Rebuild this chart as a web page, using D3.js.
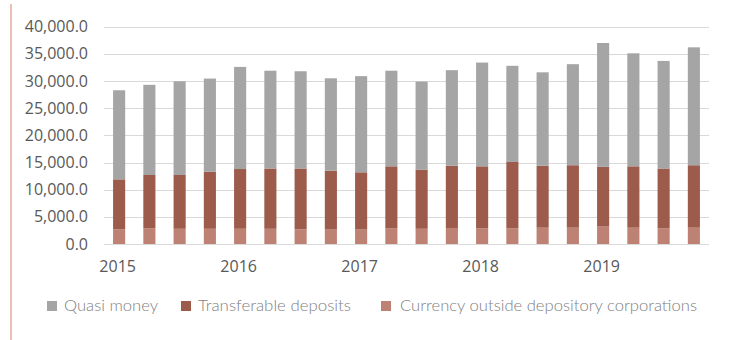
<!DOCTYPE html>
<html>
<head>
<meta charset="utf-8">
<script src="https://cdn.jsdelivr.net/npm/d3@7"></script>
<style>
  html, body { margin: 0; padding: 0; background: #fff; }
  svg { display: block; }
</style>
</head>
<body>
<svg id="chart" width="733" height="340"></svg>
<script>
// Quarterly periods, 2015 Q1 to 2019 Q4
const periods = [
  "2015Q1","2015Q2","2015Q3","2015Q4",
  "2016Q1","2016Q2","2016Q3","2016Q4",
  "2017Q1","2017Q2","2017Q3","2017Q4",
  "2018Q1","2018Q2","2018Q3","2018Q4",
  "2019Q1","2019Q2","2019Q3","2019Q4"
];

// Components of the money supply (stacked bottom to top)
const currencyOutside = [2700,2900,2800,2800,2800,2800,2700,2650,2650,2850,
                         2800,2950,2900,2900,3000,3000,3200,3000,2900,3000];
const transferableDeposits = [9200,9800,9900,10500,11000,11100,11200,10850,10550,11450,
                              10900,11450,11400,12200,11400,11500,11000,11300,11000,11500];
const quasiMoney = [16400,16600,17250,17150,18800,18000,17900,17000,17700,17600,
                    16200,17600,19100,17700,17200,18600,22800,20800,19800,21700];

const yTicks = [0,5000,10000,15000,20000,25000,30000,35000,40000];

const seriesNames = ["Quasi money","Transferable deposits","Currency outside depository corporations"];
const seriesColors = {
  "Quasi money": "#a5a5a5",
  "Transferable deposits": "#9d5b4c",
  "Currency outside depository corporations": "#be8275"
};

const rows = periods.map((p, i) => ({
  period: p,
  "Currency outside depository corporations": currencyOutside[i],
  "Transferable deposits": transferableDeposits[i],
  "Quasi money": quasiMoney[i]
}));

const svg = d3.select("#chart");

// left accent rule
svg.append("line")
  .attr("x1", 11).attr("x2", 11).attr("y1", 4).attr("y2", 340)
  .attr("stroke", "#e4ab9b").attr("stroke-width", 1.5);

const x = d3.scaleBand().domain(periods).range([104, 709])
  .paddingInner(0.6).paddingOuter(0.3);
const y = d3.scaleLinear().domain([0, 40000]).range([244, 26.7]);

// gridlines
svg.append("g").selectAll("line")
  .data(yTicks.filter(t => t > 0))
  .join("line")
  .attr("x1", 104).attr("x2", 709)
  .attr("y1", d => Math.round(y(d)) + 0.5).attr("y2", d => Math.round(y(d)) + 0.5)
  .attr("stroke", "#d9d9d9").attr("stroke-width", 1);

// y axis labels
const yAxis = svg.append("g").attr("transform", "translate(104,0)")
  .call(d3.axisLeft(y).tickValues(yTicks).tickFormat(d3.format(",.1f")).tickSize(0).tickPadding(16));
yAxis.select(".domain").remove();
yAxis.selectAll("text")
  .attr("font-family", "'Open Sans', sans-serif").attr("font-size", 16).attr("fill", "#595959");

// stacked bars
const stack = d3.stack().keys(["Currency outside depository corporations", "Transferable deposits", "Quasi money"]);
const layers = stack(rows);
svg.append("g").selectAll("g")
  .data(layers)
  .join("g")
  .attr("fill", d => seriesColors[d.key])
  .selectAll("rect")
  .data(d => d)
  .join("rect")
  .attr("x", d => x(d.data.period))
  .attr("width", x.bandwidth())
  .attr("y", d => y(d[1]))
  .attr("height", d => y(d[0]) - y(d[1]));

// baseline
svg.append("line")
  .attr("x1", 104).attr("x2", 709).attr("y1", 244.5).attr("y2", 244.5)
  .attr("stroke", "#d9d9d9").attr("stroke-width", 1);

// x axis: year label at each first quarter
const xAxis = svg.append("g").attr("transform", "translate(-1.5,244)")
  .call(d3.axisBottom(x).tickSize(0).tickPadding(17)
    .tickFormat(d => d.endsWith("Q1") ? d.slice(0, 4) : ""));
xAxis.select(".domain").remove();
xAxis.selectAll("text")
  .attr("font-family", "'Open Sans', sans-serif").attr("font-size", 16).attr("fill", "#595959");

// legend
const legendItems = [
  { name: "Quasi money", sx: 47, tx: 64, tw: 94 },
  { name: "Transferable deposits", sx: 181, tx: 198, tw: 153 },
  { name: "Currency outside depository corporations", sx: 381, tx: 400, tw: 297 }
];
const legend = svg.append("g");
legendItems.forEach(it => {
  legend.append("rect")
    .attr("x", it.sx).attr("y", 301).attr("width", 10).attr("height", 10)
    .attr("fill", seriesColors[it.name]);
  legend.append("text")
    .attr("x", it.tx).attr("y", 311)
    .attr("font-family", "Lato, 'Open Sans', sans-serif").attr("font-weight", 300)
    .attr("font-size", 15).attr("fill", "#7f7f7f")
    .attr("textLength", it.tw).attr("lengthAdjust", "spacingAndGlyphs")
    .text(it.name);
});
</script>
</body>
</html>
